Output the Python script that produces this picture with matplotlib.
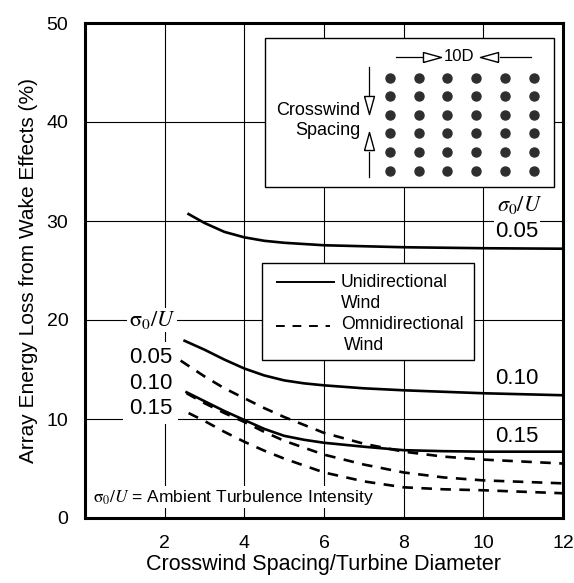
import numpy as np
import matplotlib
matplotlib.use("Agg")
import matplotlib.pyplot as plt
from matplotlib.patches import Rectangle

plt.rcParams['font.family'] = ['Liberation Sans', 'DejaVu Sans']
plt.rcParams['mathtext.fontset'] = 'stix'

# unidirectional wind (solid)
uni_005_x = [2.6, 3.0, 3.5, 4.0, 4.5, 5.0, 6.0, 8.0, 10.0, 12.0]
uni_005_y = [30.7, 29.8, 28.9, 28.35, 28.0, 27.8, 27.55, 27.35, 27.25, 27.2]
uni_010_x = [2.5, 3.0, 3.5, 4.0, 4.5, 5.0, 5.5, 6.0, 7.0, 8.0, 10.0, 12.0]
uni_010_y = [17.9, 17.0, 16.0, 15.1, 14.4, 13.9, 13.6, 13.4, 13.1, 12.9, 12.6, 12.4]
uni_015_x = [2.55, 3.0, 3.5, 4.0, 4.5, 5.0, 5.5, 6.0, 7.0, 8.0, 9.0, 10.0, 12.0]
uni_015_y = [12.7, 11.8, 10.8, 9.9, 9.0, 8.3, 7.9, 7.6, 7.2, 6.85, 6.75, 6.7, 6.7]

# omnidirectional wind (dashed)
omni_005_x = [2.4, 3.0, 3.5, 4.0, 4.5, 5.0, 5.5, 6.0, 7.0, 8.0, 9.0, 10.0, 12.0]
omni_005_y = [15.9, 14.3, 13.1, 12.1, 11.1, 10.2, 9.4, 8.6, 7.5, 6.7, 6.2, 5.9, 5.5]
omni_010_x = [2.55, 3.0, 3.5, 4.0, 4.5, 5.0, 5.5, 6.0, 7.0, 8.0, 9.0, 10.0, 12.0]
omni_010_y = [12.6, 11.6, 10.6, 9.7, 8.7, 7.8, 7.1, 6.4, 5.4, 4.6, 4.1, 3.8, 3.5]
omni_015_x = [2.6, 3.0, 3.5, 4.0, 4.5, 5.0, 5.5, 6.0, 7.0, 8.0, 9.0, 10.0, 12.0]
omni_015_y = [10.6, 9.8, 8.7, 7.7, 6.8, 6.0, 5.3, 4.6, 3.7, 3.1, 2.9, 2.8, 2.5]

x_ticks = [2, 4, 6, 8, 10, 12]
y_ticks = [0, 10, 20, 30, 40, 50]

# turbine layout in the inset
col_x = [7.65, 8.38, 9.08, 9.81, 10.54, 11.27]
row_y = [44.4, 42.6, 40.7, 38.9, 37.0, 35.1]

fig = plt.figure(figsize=(5.74, 5.83), dpi=100)
ax = fig.add_axes([85/574, 1-518/583, (563-85)/574, (518-23)/583])
ax.set_xlim(0, 12)
ax.set_ylim(0, 50)
ax.set_xticks(x_ticks)
ax.set_yticks(y_ticks)
ax.tick_params(length=0, labelsize=14, pad=12)
for s in ax.spines.values():
    s.set_linewidth(2.2)
ax.grid(True, color='black', lw=0.8, zorder=0)
ax.set_axisbelow(True)
ax.set_xlabel('Crosswind Spacing/Turbine Diameter', fontsize=15.5, labelpad=2)
ax.set_ylabel('Array Energy Loss from Wake Effects (%)', fontsize=15, labelpad=6)

lw = 1.9
dash = (4, 3.2)
for xs, ys in [(uni_005_x, uni_005_y), (uni_010_x, uni_010_y), (uni_015_x, uni_015_y)]:
    ax.plot(xs, ys, color='black', lw=lw, zorder=3)
for xs, ys in [(omni_005_x, omni_005_y), (omni_010_x, omni_010_y), (omni_015_x, omni_015_y)]:
    ax.plot(xs, ys, color='black', lw=lw, dashes=dash, zorder=3)

wbox = dict(facecolor='white', edgecolor='none', pad=1)
wbox_big = dict(facecolor='white', edgecolor='none', pad=4)

# right-side labels (unidirectional)
ax.text(10.9, 31.6, r'$\sigma_0/U$', fontsize=16, ha='center', va='center', zorder=4)
ax.text(10.85, 28.9, '0.05', fontsize=16, ha='center', va='center', bbox=wbox, zorder=2.5)
ax.text(10.85, 14.1, '0.10', fontsize=16, ha='center', va='center', zorder=4)
ax.text(10.85, 8.2, '0.15', fontsize=16, ha='center', va='center', zorder=4)

# left-side labels (omnidirectional)
ax.text(1.68, 20.0, r'$\mathrm{\sigma}_0/U$', fontsize=16, ha='center', va='center', bbox=wbox, zorder=2.5)
for lab, yy in [('0.05', 16.2), ('0.10', 13.6), ('0.15', 11.1)]:
    ax.text(1.64, yy, lab, fontsize=16, ha='center', va='center', bbox=wbox_big, zorder=2.5)

ax.text(0.2, 2.1, r'$\mathrm{\sigma}_0/U$ = Ambient Turbulence Intensity', fontsize=12.5,
        ha='left', va='center', bbox=wbox, zorder=2.5)

# legend box
ax.add_patch(Rectangle((4.45, 16.0), 9.76-4.45, 25.8-16.0, facecolor='white',
                       edgecolor='black', lw=1.0, zorder=2))
ax.plot([4.83, 6.24], [23.8, 23.8], color='black', lw=1.4, zorder=3)
ax.text(6.42, 23.8, 'Unidirectional', fontsize=12.7, va='center', zorder=4)
ax.text(6.42, 21.7, 'Wind', fontsize=12.7, va='center', zorder=4)
ax.plot([4.8, 6.15], [19.4, 19.4], color='black', lw=1.4, dashes=(4.5, 4), zorder=3)
ax.text(6.42, 19.5, 'Omnidirectional', fontsize=12.7, va='center', zorder=4)
ax.text(6.5, 17.4, 'Wind', fontsize=12.7, va='center', zorder=4)

# inset diagram
ax.add_patch(Rectangle((4.53, 33.4), 11.77-4.53, 48.5-33.4, facecolor='white',
                       edgecolor='black', lw=1.0, zorder=2))
gx, gy = np.meshgrid(col_x, row_y)
ax.plot(gx.ravel(), gy.ravel(), 'o', color='#2e2e2e', ms=6.5, zorder=4)

tri_r = [(-1, -0.55), (1, 0), (-1, 0.55), (-1, -0.55)]
tri_l = [(1, -0.55), (-1, 0), (1, 0.55), (1, -0.55)]
tri_d = [(-0.55, 1), (0, -1), (0.55, 1), (-0.55, 1)]
tri_u = [(-0.55, -1), (0, 1), (0.55, -1), (-0.55, -1)]
tri_kw = dict(color='black', mfc='white', mew=1.0, ms=13, zorder=5)

ax.plot([7.8, 8.5], [46.6, 46.6], color='black', lw=0.9, zorder=4)
ax.plot([8.7], [46.6], marker=tri_r, **tri_kw)
ax.text(9.38, 46.6, '10D', fontsize=12, ha='center', va='center', zorder=5)
ax.plot([10.42, 11.2], [46.6, 46.6], color='black', lw=0.9, zorder=4)
ax.plot([10.15], [46.6], marker=tri_l, **tri_kw)

ax.plot([7.12, 7.12], [45.6, 42.7], color='black', lw=0.9, zorder=4)
ax.plot([7.12], [41.7], marker=tri_d, **tri_kw)
ax.plot([7.12, 7.12], [37.0, 34.4], color='black', lw=0.9, zorder=4)
ax.plot([7.12], [38.1], marker=tri_u, **tri_kw)
ax.text(6.92, 41.2, 'Crosswind', fontsize=13, ha='right', va='center', zorder=5)
ax.text(6.92, 39.1, 'Spacing', fontsize=13, ha='right', va='center', zorder=5)

fig.savefig('out.png', dpi=100)
